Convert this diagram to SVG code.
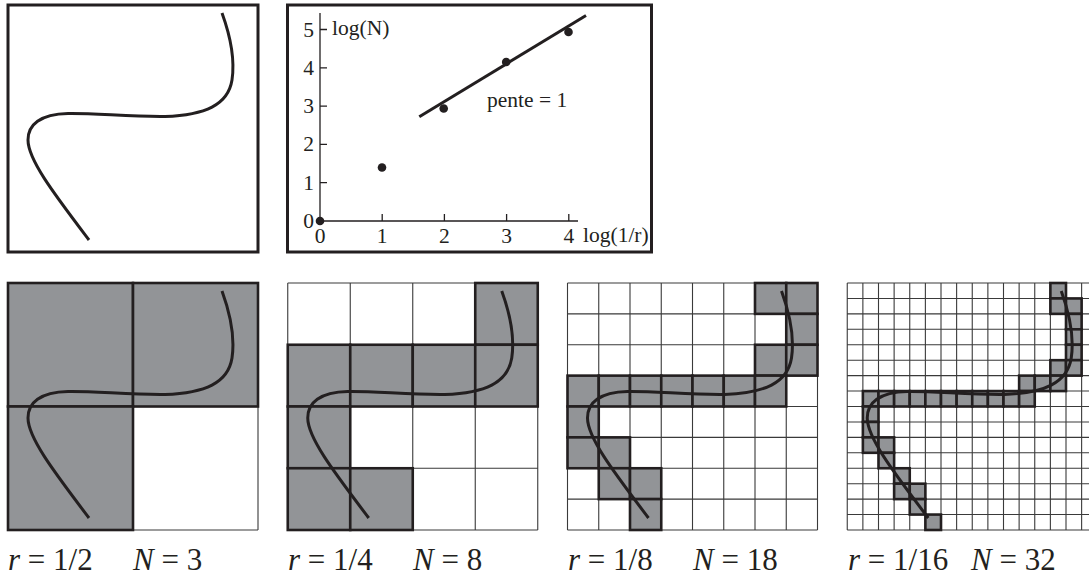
<svg xmlns="http://www.w3.org/2000/svg" xmlns:xlink="http://www.w3.org/1999/xlink" width="1089" height="577" viewBox="0 0 1089 577">
<style>
  .frame { fill: none; stroke: #231f20; stroke-width: 3; }
  .curve { fill: none; stroke: #231f20; stroke-width: 3; stroke-linecap: butt; }
  .grid { fill: none; stroke: #3a3a3a; stroke-width: 1.1; }
  .cell { fill: #929497; stroke: #231f20; stroke-width: 2.6; }
  .axis { fill: none; stroke: #231f20; stroke-width: 1.3; }
  .fitline { fill: none; stroke: #231f20; stroke-width: 3; }
  .dot { fill: #231f20; }
  .lbl { font-family: "Liberation Serif", "Times New Roman", serif; font-size: 21.5px; fill: #231f20; }
  .cap { font-family: "Liberation Serif", "Times New Roman", serif; font-size: 31px; fill: #231f20; }
  .it { font-style: italic; }
</style>
<defs>
  <path id="crv" d="M214,8 C222,30 227,55 224,75 C220,100 197,110 157,111.5 C122,112 87,108 60,108.5 C32,109 20,120 20,135 C20,155 47,190 81,235"/>
</defs>

<g id="curve-box">
  <rect class="frame" x="8" y="5" width="250" height="247"/>
  <use xlink:href="#crv" class="curve" transform="translate(8,5)"/>
</g>

<g id="loglog-plot">
  <rect class="frame" x="287.5" y="5" width="364" height="247"/>
  <path class="axis" d="M320,13 L320,221 L578,221"/>
  <path class="axis" d="M320,182.7 H327 M320,144.4 H327 M320,106.1 H327 M320,67.8 H327 M320,29.5 H327 M382.2,221 V214 M444.4,221 V214 M506.6,221 V214 M568.8,221 V214"/>
  <g class="lbl" text-anchor="end">
    <text x="314" y="228">0</text>
    <text x="314" y="189.5">1</text>
    <text x="314" y="151">2</text>
    <text x="314" y="113">3</text>
    <text x="314" y="74.5">4</text>
    <text x="314" y="36.5">5</text>
  </g>
  <g class="lbl" text-anchor="middle">
    <text x="320" y="243">0</text>
    <text x="382.2" y="243">1</text>
    <text x="444.4" y="243">2</text>
    <text x="506.6" y="243">3</text>
    <text x="568.8" y="243">4</text>
  </g>
  <text class="lbl" x="332" y="35">log(N)</text>
  <text class="lbl" x="583" y="242">log(1/r)</text>
  <text class="lbl" x="487" y="107">pente = 1</text>
  <line class="fitline" x1="419.3" y1="116.7" x2="586" y2="15.5"/>
  <circle class="dot" cx="320" cy="221" r="4.3"/>
  <circle class="dot" cx="382" cy="167.5" r="4.3"/>
  <circle class="dot" cx="443.7" cy="108.5" r="4.3"/>
  <circle class="dot" cx="506.2" cy="62" r="4.3"/>
  <circle class="dot" cx="568.5" cy="32" r="4.3"/>
</g>

<g id="panel-r2" transform="translate(8,283)">
  <path class="grid" d="M0,0 V247 M125,0 V247 M250,0 V247 M0,0 H250 M0,123.5 H250 M0,247 H250"/>
  <rect class="cell" x="0" y="0" width="125" height="123.5"/>
  <rect class="cell" x="125" y="0" width="125" height="123.5"/>
  <rect class="cell" x="0" y="123.5" width="125" height="123.5"/>
  <use xlink:href="#crv" class="curve"/>
</g>

<g id="panel-r4" transform="translate(287.75,283)">
  <path class="grid" d="M0,0 V247 M62.5,0 V247 M125,0 V247 M187.5,0 V247 M250,0 V247 M0,0 H250 M0,61.75 H250 M0,123.5 H250 M0,185.25 H250 M0,247 H250"/>
  <g>
    <rect class="cell" x="187.5" y="0" width="62.5" height="61.75"/>
    <rect class="cell" x="0" y="61.75" width="62.5" height="61.75"/>
    <rect class="cell" x="62.5" y="61.75" width="62.5" height="61.75"/>
    <rect class="cell" x="125" y="61.75" width="62.5" height="61.75"/>
    <rect class="cell" x="187.5" y="61.75" width="62.5" height="61.75"/>
    <rect class="cell" x="0" y="123.5" width="62.5" height="61.75"/>
    <rect class="cell" x="0" y="185.25" width="62.5" height="61.75"/>
    <rect class="cell" x="62.5" y="185.25" width="62.5" height="61.75"/>
  </g>
  <use xlink:href="#crv" class="curve"/>
</g>

<g id="panel-r8" transform="translate(567.5,283)">
  <path class="grid" d="M0,0 V247 M31.25,0 V247 M62.5,0 V247 M93.75,0 V247 M125,0 V247 M156.25,0 V247 M187.5,0 V247 M218.75,0 V247 M250,0 V247 M0,0 H250 M0,30.875 H250 M0,61.75 H250 M0,92.625 H250 M0,123.5 H250 M0,154.375 H250 M0,185.25 H250 M0,216.125 H250 M0,247 H250"/>
  <g>
    <rect class="cell" x="187.5" y="0" width="31.25" height="30.875"/>
    <rect class="cell" x="218.75" y="0" width="31.25" height="30.875"/>
    <rect class="cell" x="218.75" y="30.875" width="31.25" height="30.875"/>
    <rect class="cell" x="187.5" y="61.75" width="31.25" height="30.875"/>
    <rect class="cell" x="218.75" y="61.75" width="31.25" height="30.875"/>
    <rect class="cell" x="0" y="92.625" width="31.25" height="30.875"/>
    <rect class="cell" x="31.25" y="92.625" width="31.25" height="30.875"/>
    <rect class="cell" x="62.5" y="92.625" width="31.25" height="30.875"/>
    <rect class="cell" x="93.75" y="92.625" width="31.25" height="30.875"/>
    <rect class="cell" x="125" y="92.625" width="31.25" height="30.875"/>
    <rect class="cell" x="156.25" y="92.625" width="31.25" height="30.875"/>
    <rect class="cell" x="187.5" y="92.625" width="31.25" height="30.875"/>
    <rect class="cell" x="0" y="123.5" width="31.25" height="30.875"/>
    <rect class="cell" x="0" y="154.375" width="31.25" height="30.875"/>
    <rect class="cell" x="31.25" y="154.375" width="31.25" height="30.875"/>
    <rect class="cell" x="31.25" y="185.25" width="31.25" height="30.875"/>
    <rect class="cell" x="62.5" y="185.25" width="31.25" height="30.875"/>
    <rect class="cell" x="62.5" y="216.125" width="31.25" height="30.875"/>
  </g>
  <use xlink:href="#crv" class="curve"/>
</g>

<g id="panel-r16" transform="translate(847.25,283)">
  <path class="grid" d="M0,0 V247 M15.625,0 V247 M31.25,0 V247 M46.875,0 V247 M62.5,0 V247 M78.125,0 V247 M93.75,0 V247 M109.375,0 V247 M125,0 V247 M140.625,0 V247 M156.25,0 V247 M171.875,0 V247 M187.5,0 V247 M203.125,0 V247 M218.75,0 V247 M234.375,0 V247 M250,0 V247 M0,0 H250 M0,15.4375 H250 M0,30.875 H250 M0,46.3125 H250 M0,61.75 H250 M0,77.1875 H250 M0,92.625 H250 M0,108.0625 H250 M0,123.5 H250 M0,138.9375 H250 M0,154.375 H250 M0,169.8125 H250 M0,185.25 H250 M0,200.6875 H250 M0,216.125 H250 M0,231.5625 H250 M0,247 H250"/>
  <g>
    <rect class="cell" x="203.125" y="0" width="15.625" height="15.4375"/>
    <rect class="cell" x="203.125" y="15.4375" width="15.625" height="15.4375"/>
    <rect class="cell" x="218.75" y="15.4375" width="15.625" height="15.4375"/>
    <rect class="cell" x="218.75" y="30.875" width="15.625" height="15.4375"/>
    <rect class="cell" x="218.75" y="46.3125" width="15.625" height="15.4375"/>
    <rect class="cell" x="218.75" y="61.75" width="15.625" height="15.4375"/>
    <rect class="cell" x="203.125" y="77.1875" width="15.625" height="15.4375"/>
    <rect class="cell" x="218.75" y="77.1875" width="15.625" height="15.4375"/>
    <rect class="cell" x="171.875" y="92.625" width="15.625" height="15.4375"/>
    <rect class="cell" x="187.5" y="92.625" width="15.625" height="15.4375"/>
    <rect class="cell" x="203.125" y="92.625" width="15.625" height="15.4375"/>
    <rect class="cell" x="15.625" y="108.0625" width="15.625" height="15.4375"/>
    <rect class="cell" x="31.25" y="108.0625" width="15.625" height="15.4375"/>
    <rect class="cell" x="46.875" y="108.0625" width="15.625" height="15.4375"/>
    <rect class="cell" x="62.5" y="108.0625" width="15.625" height="15.4375"/>
    <rect class="cell" x="78.125" y="108.0625" width="15.625" height="15.4375"/>
    <rect class="cell" x="93.75" y="108.0625" width="15.625" height="15.4375"/>
    <rect class="cell" x="109.375" y="108.0625" width="15.625" height="15.4375"/>
    <rect class="cell" x="125" y="108.0625" width="15.625" height="15.4375"/>
    <rect class="cell" x="140.625" y="108.0625" width="15.625" height="15.4375"/>
    <rect class="cell" x="156.25" y="108.0625" width="15.625" height="15.4375"/>
    <rect class="cell" x="171.875" y="108.0625" width="15.625" height="15.4375"/>
    <rect class="cell" x="15.625" y="123.5" width="15.625" height="15.4375"/>
    <rect class="cell" x="15.625" y="138.9375" width="15.625" height="15.4375"/>
    <rect class="cell" x="15.625" y="154.375" width="15.625" height="15.4375"/>
    <rect class="cell" x="31.25" y="154.375" width="15.625" height="15.4375"/>
    <rect class="cell" x="31.25" y="169.8125" width="15.625" height="15.4375"/>
    <rect class="cell" x="46.875" y="185.25" width="15.625" height="15.4375"/>
    <rect class="cell" x="46.875" y="200.6875" width="15.625" height="15.4375"/>
    <rect class="cell" x="62.5" y="200.6875" width="15.625" height="15.4375"/>
    <rect class="cell" x="62.5" y="216.125" width="15.625" height="15.4375"/>
    <rect class="cell" x="78.125" y="231.5625" width="15.625" height="15.4375"/>
  </g>
  <use xlink:href="#crv" class="curve"/>
</g>

<g id="captions" class="cap">
  <text x="8" y="570"><tspan class="it">r</tspan> = 1/2</text>
  <text x="133" y="570"><tspan class="it">N</tspan> = 3</text>
  <text x="288" y="570"><tspan class="it">r</tspan> = 1/4</text>
  <text x="413" y="570"><tspan class="it">N</tspan> = 8</text>
  <text x="568" y="570"><tspan class="it">r</tspan> = 1/8</text>
  <text x="693" y="570"><tspan class="it">N</tspan> = 18</text>
  <text x="848" y="570"><tspan class="it">r</tspan> = 1/16</text>
  <text x="971" y="570"><tspan class="it">N</tspan> = 32</text>
</g>
</svg>
